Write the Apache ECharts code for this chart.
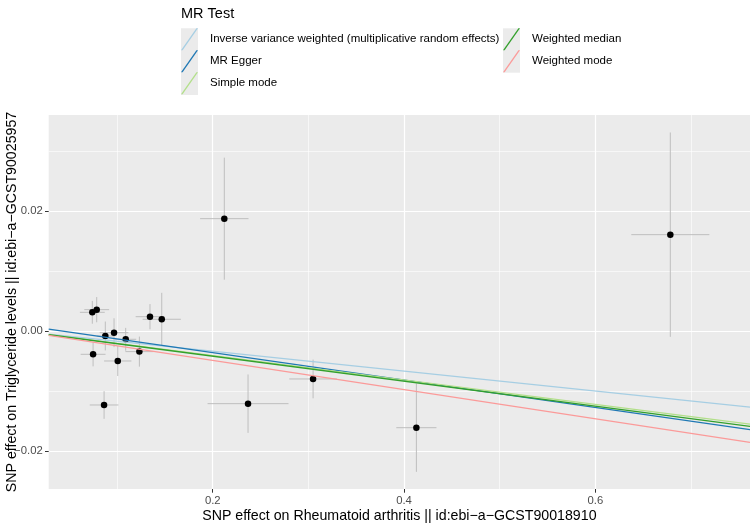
<!DOCTYPE html>
<html>
<head>
<meta charset="utf-8">
<script src="https://cdn.jsdelivr.net/npm/echarts@6/dist/echarts.min.js"></script>
<style>
  html, body { margin: 0; padding: 0; background: #fff; }
  #chart { width: 750px; height: 524px; }
</style>
</head>
<body>
<div id="chart"></div>
<script>
// SNP effects (exposure on x, outcome on y) and their standard errors
var snpX = [0.0741, 0.0787, 0.1344, 0.1467, 0.0877, 0.0968, 0.1090, 0.1233, 0.0749, 0.1007, 0.0864, 0.2121, 0.2369, 0.3049, 0.4129, 0.6784];
var snpY = [0.00314, 0.00358, 0.00241, 0.00198, -0.0008, -0.00025, -0.00135, -0.0034, -0.00385, -0.00496, -0.01228, 0.01872, -0.01206, -0.00795, -0.01606, 0.01606];
var seX = [0.013, 0.013, 0.015, 0.020, 0.009, 0.015, 0.011, 0.0146, 0.013, 0.0143, 0.015, 0.0253, 0.0423, 0.0249, 0.021, 0.0408];
var seY = [0.0019, 0.0021, 0.0021, 0.0044, 0.0024, 0.0024, 0.0019, 0.0025, 0.002, 0.0025, 0.0023, 0.01015, 0.00486, 0.00322, 0.00735, 0.017];

// MR methods: intercept + slope of each fitted line
var methods = ['Inverse variance weighted (multiplicative random effects)', 'MR Egger', 'Simple mode', 'Weighted median', 'Weighted mode'];
var intercepts = [0, 0.00098, 0, 0, 0];
var slopes = [-0.0166, -0.0228, -0.0203, -0.0208, -0.0243];
var methodColors = ['#A6CEE3', '#1F78B4', '#B2DF8A', '#33A02C', '#FB9A99'];

// axis range and ticks
var xRange = [0.0285, 0.7617];
var yRange = [-0.02626, 0.03597];
var xMajor = [0.2, 0.4, 0.6];
var xMinor = [0.1, 0.3, 0.5, 0.7];
var yMajor = [-0.02, 0, 0.02];
var yMinor = [-0.01, 0.01, 0.03];

var FONT = '"Liberation Sans", Arial, Helvetica, sans-serif';

var myChart = echarts.init(document.getElementById('chart'));

var barData = [];
var pointData = [];
for (var i = 0; i < snpX.length; i++) {
    barData.push([snpX[i], snpY[i], seX[i], seY[i]]);
    pointData.push([snpX[i], snpY[i]]);
}

function fmtY(v) {
    if (Math.abs(v) < 1e-9) return '0.00';
    return (v < 0 ? '\u2212' : '') + Math.abs(v).toFixed(2);
}

var series = [
    {
        // error bars (vertical + horizontal)
        type: 'custom',
        silent: true,
        z: 2,
        data: barData,
        renderItem: function (params, api) {
            var x = api.value(0), y = api.value(1), sx = api.value(2), sy = api.value(3);
            var l = api.coord([x - sx, y]), r = api.coord([x + sx, y]);
            var t = api.coord([x, y + sy]), b = api.coord([x, y - sy]);
            var st = { stroke: '#BEBEBE', lineWidth: 1 };
            return {
                type: 'group',
                children: [
                    { type: 'line', shape: { x1: l[0], y1: l[1], x2: r[0], y2: r[1] }, style: st },
                    { type: 'line', shape: { x1: t[0], y1: t[1], x2: b[0], y2: b[1] }, style: st }
                ]
            };
        }
    },
    {
        type: 'scatter',
        silent: true,
        z: 3,
        symbol: 'circle',
        symbolSize: 6.5,
        itemStyle: { color: '#000', opacity: 1 },
        data: pointData
    }
];

// fitted lines, drawn across the whole x range
methods.forEach(function (name, k) {
    var y0 = intercepts[k] + slopes[k] * xRange[0];
    var y1 = intercepts[k] + slopes[k] * xRange[1];
    series.push({
        name: name,
        type: 'custom',
        silent: true,
        z: 4,
        itemStyle: { color: methodColors[k] },
        data: [[xRange[0], y0, xRange[1], y1]],
        renderItem: function (params, api) {
            var p0 = api.coord([api.value(0), api.value(1)]);
            var p1 = api.coord([api.value(2), api.value(3)]);
            return {
                type: 'line',
                shape: { x1: p0[0], y1: p0[1], x2: p1[0], y2: p1[1] },
                style: { stroke: methodColors[k], lineWidth: 1.3 }
            };
        }
    });
});

var legendBase = {
    orient: 'vertical',
    top: 28.3,
    padding: 0,
    itemGap: 0,
    itemWidth: 17,
    itemHeight: 22.2,
    selectedMode: false,
    icon: 'path://M0,22 L1.6,22 L17,0 L15.4,0 Z',
    itemStyle: { borderWidth: 0 },
    textStyle: { fontSize: 11.5, color: '#000', fontFamily: FONT, padding: [0, 0, 0, 7] }
};

option = {
    animation: false,
    textStyle: { fontFamily: FONT },
    title: {
        text: 'MR Test',
        left: 181,
        top: 6,
        padding: 0,
        textStyle: { fontSize: 14.5, fontWeight: 'normal', color: '#000', fontFamily: FONT }
    },
    legend: [
        Object.assign({}, legendBase, { left: 181, data: methods.slice(0, 3) }),
        Object.assign({}, legendBase, { left: 503, data: methods.slice(3) })
    ],
    graphic: [
        { type: 'rect', z: 0, shape: { x: 181, y: 28.3, width: 17, height: 66.6 }, style: { fill: '#EBEBEB' } },
        { type: 'rect', z: 0, shape: { x: 503, y: 28.3, width: 17, height: 44.4 }, style: { fill: '#EBEBEB' } }
    ],
    grid: {
        left: 48.7,
        right: 0,
        top: 115,
        bottom: 35,
        outerBoundsMode: 'none',
        containLabel: false,
        show: true,
        backgroundColor: '#EBEBEB',
        borderWidth: 0
    },
    xAxis: [
        {
            type: 'value',
            min: xRange[0],
            max: xRange[1],
            name: 'SNP effect on Rheumatoid arthritis || id:ebi\u2212a\u2212GCST90018910',
            nameLocation: 'middle',
            nameGap: 20,
            nameMoveOverlap: false,
            nameTextStyle: { fontSize: 14.2, color: '#000', fontFamily: FONT },
            axisLine: { show: false, onZero: false },
            axisTick: { show: true, length: 3.7, customValues: xMajor, lineStyle: { color: '#333', width: 1 } },
            axisLabel: { customValues: xMajor, color: '#4D4D4D', fontSize: 11.3, margin: 6, fontFamily: FONT },
            splitLine: { show: true, lineStyle: { color: '#fff', width: 1.2 } }
        },
        {
            type: 'value',
            min: xRange[0],
            max: xRange[1],
            axisLine: { show: false, onZero: false },
            axisTick: { show: false, customValues: xMinor },
            axisLabel: { show: false, customValues: xMinor },
            splitLine: { show: true, lineStyle: { color: '#fff', width: 0.6 } }
        }
    ],
    yAxis: [
        {
            type: 'value',
            min: yRange[0],
            max: yRange[1],
            name: 'SNP effect on Triglyceride levels || id:ebi\u2212a\u2212GCST90025957',
            nameLocation: 'middle',
            nameGap: 30,
            nameMoveOverlap: false,
            nameTextStyle: { fontSize: 14.2, color: '#000', fontFamily: FONT },
            axisLine: { show: false, onZero: false },
            axisTick: { show: true, length: 3.7, customValues: yMajor, lineStyle: { color: '#333', width: 1 } },
            axisLabel: { customValues: yMajor, color: '#4D4D4D', fontSize: 11.3, margin: 6, fontFamily: FONT, formatter: fmtY },
            splitLine: { show: true, lineStyle: { color: '#fff', width: 1.2 } }
        },
        {
            type: 'value',
            min: yRange[0],
            max: yRange[1],
            position: 'left',
            axisLine: { show: false, onZero: false },
            axisTick: { show: false, customValues: yMinor },
            axisLabel: { show: false, customValues: yMinor },
            splitLine: { show: true, lineStyle: { color: '#fff', width: 0.6 } }
        }
    ],
    series: series
};

myChart.setOption(option);
</script>
</body>
</html>
